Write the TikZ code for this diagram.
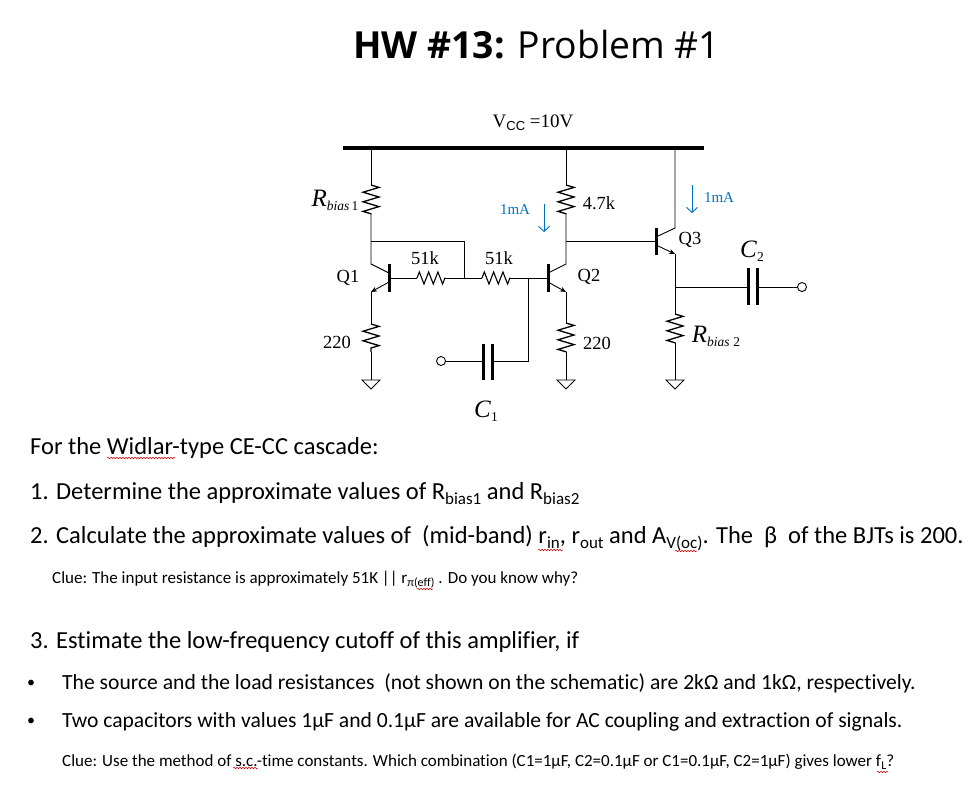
\documentclass[tikz,border=0pt]{standalone}
\usepackage{fontspec}
\setmainfont[RawFeature={-liga}]{Carlito}
\newfontfamily\titlefont{Open Sans}
\newfontfamily\schemfont{Liberation Serif}
\newfontfamily\vccfont{Liberation Sans}
\usetikzlibrary{arrows.meta,decorations.pathmorphing}
\definecolor{currentblue}{RGB}{0,112,192}
\newcommand{\lowtxt}[2][5]{\raisebox{-#1pt}{\fontsize{17}{20}\selectfont #2}}
\newcommand{\smalllow}[1]{\raisebox{-4pt}{\fontsize{13.5}{16}\selectfont #1}}
\tikzset{
    wire/.style={line width=0.9pt},
    resistor/.style={line width=1.3pt,decorate,decoration={zigzag,segment length=9.6pt,amplitude=8pt}},
    hresistor/.style={line width=1.1pt,decorate,decoration={zigzag,segment length=9.3pt,amplitude=6pt}},
    rail/.style={line width=3.5pt},
    plate/.style={line width=3pt},
    emitter/.style={wire,-{Stealth[length=6pt,width=5pt]}},
    term/.style={circle,draw,line width=0.9pt,fill=white,minimum size=9pt,inner sep=0pt},
    current/.style={currentblue,line width=0.9pt,-{Straight Barb[length=5pt,width=11pt]}},
    squiggle/.style={red!80!black,line width=0.5pt,decorate,decoration={snake,segment length=3pt,amplitude=0.8pt}},
    body/.style={anchor=base west,inner sep=0pt,font=\fontsize{24.5}{28}\selectfont},
    bullets/.style={anchor=base west,inner sep=0pt,font=\fontsize{21.6}{26}\selectfont},
    dot/.style={anchor=base west,inner sep=0pt,font=\fontsize{16}{18}\selectfont},
    clue/.style={anchor=base west,inner sep=0pt,font=\fontsize{17}{20}\selectfont},
    schem/.style={inner sep=0pt,font=\schemfont\fontsize{18.5}{22}\selectfont},
    symb/.style={inner sep=0pt,font=\schemfont\fontsize{25}{28}\selectfont},
    ampere/.style={inner sep=0pt,text=currentblue,font=\schemfont\fontsize{15}{18}\selectfont},
    gnd/.pic={\draw[wire] (-9,0) -- (9,0) -- (0,9) -- cycle;}
}
\begin{document}
\begin{tikzpicture}[x=1pt,y=-1pt]
    \useasboundingbox (0,0) rectangle (979,792);
    % title
    \node[anchor=base west,inner sep=0pt,font=\titlefont\fontsize{37.3}{44}\selectfont] (title) at (353,59) {\textbf{HW \#13:} Problem \#1};
    % supply
    \node[inner sep=0pt,font=\schemfont\fontsize{19}{24}\selectfont] (vcc) at (533,122.5) {V\raisebox{-3pt}{\vccfont\fontsize{13}{16}\selectfont CC} =10V};
    \coordinate (railL) at (343,148);
    \coordinate (railR) at (704,148);
    \draw[rail] (railL) -- (railR);
    % Q1 and its resistors
    \coordinate (topA) at (371,148);
    \coordinate (rb1T) at (371,185);
    \coordinate (rb1B) at (371,214);
    \coordinate (tieL) at (371,241);
    \coordinate (q1C) at (371,264);
    \coordinate (q1CB) at (389,273);
    \coordinate (q1EB) at (389,282);
    \coordinate (q1E) at (371,292);
    \coordinate (q1T) at (389,264);
    \coordinate (q1Bt) at (389,292);
    \coordinate (q1B) at (389,278);
    \coordinate (re1T) at (371,324);
    \coordinate (re1B) at (371,352);
    \coordinate (gnd1) at (371,380);
    \draw[wire] (topA) -- (rb1T);
    \draw[resistor] (rb1T) -- (rb1B);
    \draw[wire] (rb1B) -- (tieL) -- (q1C) -- (q1CB);
    \draw[plate] (q1T) -- (q1Bt);
    \draw[emitter] (q1EB) -- (q1E);
    \draw[wire] (q1E) -- (re1T);
    \draw[resistor] (re1T) -- (re1B);
    \draw[wire] (re1B) -- (gnd1);
    \pic at (gnd1) {gnd};
    % base network
    \coordinate (rx1L) at (417,278);
    \coordinate (rx1R) at (445,278);
    \coordinate (tieB) at (464,278);
    \coordinate (tieT) at (464,241);
    \coordinate (rx2L) at (482,278);
    \coordinate (rx2R) at (510,278);
    \coordinate (inJ) at (528,278);
    \coordinate (inB) at (528,361);
    \coordinate (c1R) at (492,361);
    \coordinate (c1L) at (483,361);
    \coordinate (c1Rt) at (492,344);
    \coordinate (c1Rb) at (492,380);
    \coordinate (c1Lt) at (483,344);
    \coordinate (c1Lb) at (483,380);
    \node[term] (vin) at (441,361) {};
    \coordinate (q2B) at (548,278);
    \draw[wire] (q1B) -- (rx1L);
    \draw[hresistor] (rx1L) -- (rx1R);
    \draw[wire] (rx1R) -- (rx2L);
    \draw[hresistor] (rx2L) -- (rx2R);
    \draw[wire] (rx2R) -- (q2B);
    \draw[wire] (tieL) -- (tieT) -- (tieB);
    \draw[wire] (inJ) -- (inB) -- (c1R);
    \draw[plate] (c1Rt) -- (c1Rb);
    \draw[plate] (c1Lt) -- (c1Lb);
    \draw[wire] (c1L) -- (vin);
    % Q2
    \coordinate (topB) at (566,148);
    \coordinate (rcT) at (566,185);
    \coordinate (rcB) at (566,214);
    \coordinate (colJ) at (566,241);
    \coordinate (q2C) at (566,264);
    \coordinate (q2CB) at (548,273);
    \coordinate (q2EB) at (548,282);
    \coordinate (q2E) at (566,292);
    \coordinate (q2T) at (548,264);
    \coordinate (q2Bt) at (548,292);
    \coordinate (re2T) at (566,323);
    \coordinate (re2B) at (566,352);
    \coordinate (gnd2) at (566,380);
    \draw[wire] (topB) -- (rcT);
    \draw[resistor] (rcT) -- (rcB);
    \draw[wire] (rcB) -- (colJ) -- (q2C) -- (q2CB);
    \draw[plate] (q2T) -- (q2Bt);
    \draw[emitter] (q2EB) -- (q2E);
    \draw[wire] (q2E) -- (re2T);
    \draw[resistor] (re2T) -- (re2B);
    \draw[wire] (re2B) -- (gnd2);
    \pic at (gnd2) {gnd};
    % Q3 and output
    \coordinate (topC) at (675,148);
    \coordinate (q3C) at (675,228);
    \coordinate (q3CB) at (656,237);
    \coordinate (q3EB) at (656,245);
    \coordinate (q3E) at (675,254);
    \coordinate (q3T) at (656,228);
    \coordinate (q3Bt) at (656,255);
    \coordinate (q3B) at (656,241);
    \coordinate (outJ) at (675,287);
    \coordinate (rb2T) at (675,314);
    \coordinate (rb2B) at (675,343);
    \coordinate (gnd3) at (675,380);
    \coordinate (c2L) at (748,287);
    \coordinate (c2R) at (757,287);
    \coordinate (c2Lt) at (748,268);
    \coordinate (c2Lb) at (748,305);
    \coordinate (c2Rt) at (757,268);
    \coordinate (c2Rb) at (757,305);
    \node[term] (vout) at (802,287) {};
    \draw[wire] (topC) -- (q3C) -- (q3CB);
    \draw[wire] (colJ) -- (q3B);
    \draw[plate] (q3T) -- (q3Bt);
    \draw[emitter] (q3EB) -- (q3E);
    \draw[wire] (q3E) -- (outJ) -- (rb2T);
    \draw[resistor] (rb2T) -- (rb2B);
    \draw[wire] (rb2B) -- (gnd3);
    \pic at (gnd3) {gnd};
    \draw[wire] (outJ) -- (c2L);
    \draw[plate] (c2Lt) -- (c2Lb);
    \draw[plate] (c2Rt) -- (c2Rb);
    \draw[wire] (c2R) -- (vout);
    % currents
    \coordinate (i1T) at (544,204);
    \coordinate (i1B) at (544,232);
    \coordinate (i2T) at (692,185);
    \coordinate (i2B) at (692,213);
    \draw[current] (i1T) -- (i1B);
    \draw[current] (i2T) -- (i2B);
    \node[ampere] (i1) at (515,210) {1mA};
    \node[ampere] (i2) at (719,198) {1mA};
    % schematic labels
    \node[schem] (lq1) at (348,278) {Q1};
    \node[schem] (lq2) at (589,277) {Q2};
    \node[schem] (lq3) at (690,240) {Q3};
    \node[schem] (l220a) at (337,342) {220};
    \node[schem] (l220b) at (597,343) {220};
    \node[schem] (l51a) at (425,258) {51k};
    \node[schem] (l51b) at (499,258) {51k};
    \node[schem] (l47) at (599,203) {4.7k};
    \node[symb] (lrb1) at (335,200) {\textit{R}\smalllow{\textit{bias}\,1}};
    \node[symb] (lrb2) at (716,336) {\textit{R}\smalllow{\textit{bias}\;2}};
    \node[symb] (lc1) at (486,411) {\textit{C}\smalllow{1}};
    \node[symb] (lc2) at (752,251) {\textit{C}\smalllow{2}};
    % text
    \node[body] (t1) at (30,454) {For the Widlar-type CE-CC cascade:};
    \node[body] (t2) at (30,499) {1. Determine the approximate values of R\lowtxt{bias1} and R\lowtxt{bias2}};
    \node[body] (t3) at (30,543) {2. Calculate the approximate values of \ (mid-band) r\lowtxt{in}, r\lowtxt{out} and A\lowtxt{V(oc)}. The \ β \ of the BJTs is 200.};
    \node[clue] (t4) at (52,583) {Clue: The input resistance is approximately 51K || r\lowtxt[3]{\fontsize{12}{14}\selectfont π(eff)} . Do you know why?};
    \node[body] (t5) at (30,648) {3. Estimate the low-frequency cutoff of this amplifier, if};
    \node[dot] (b1) at (27,687) {•};
    \node[dot] (b2) at (27,725) {•};
    \node[bullets] (t6) at (62,689) {The source and the load resistances \ (not shown on the schematic) are 2kΩ and 1kΩ, respectively.};
    \node[bullets] (t7) at (62,727) {Two capacitors with values 1µF and 0.1µF are available for AC coupling and extraction of signals.};
    \node[clue] (t8) at (62,766) {Clue: Use the method of s.c.-time constants. Which combination (C1=1µF, C2=0.1µF or C1=0.1µF, C2=1µF) gives lower f\lowtxt[3]{\fontsize{12}{14}\selectfont L}?};
    % spelling marks
    \draw[squiggle] (107,458) -- (175,458);
    \draw[squiggle] (538,550) -- (563,550);
    \draw[squiggle] (675,551) -- (697,551);
    \draw[squiggle] (417,589) -- (433,589);
    \draw[squiggle] (233,768) -- (258,768);
    \draw[squiggle] (877,772) -- (888,772);
\end{tikzpicture}
\end{document}
